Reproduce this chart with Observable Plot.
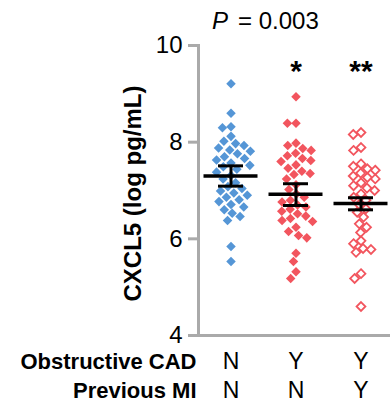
<!DOCTYPE html>
<html><head><meta charset="utf-8">
<script src="https://cdn.jsdelivr.net/npm/d3@7"></script>
<script src="https://cdn.jsdelivr.net/npm/@observablehq/plot@0.6"></script>
<style>
html,body{margin:0;padding:0;background:#fff;overflow:hidden}
</style></head><body><div id="chart"></div>
<script>
// ---- data ----
const groups = ["NN", "YN", "YY"];
const cadLabels = ["N", "Y", "Y"];
const miLabels = ["N", "N", "Y"];
const sigLabels = ["", "*", "**"];
const yTicks = [4, 6, 8, 10];

const valuesNN = [9.21, 8.60, 8.32, 8.30, 8.12, 8.02, 7.97, 7.93, 7.88, 7.84, 7.81, 7.76, 7.70, 7.66, 7.63, 7.57, 7.52, 7.49, 7.44, 7.38, 7.31, 7.24, 7.16, 7.08, 7.04, 6.99, 6.95, 6.90, 6.86, 6.81, 6.77, 6.71, 6.66, 6.60, 6.53, 6.46, 6.38, 5.84, 5.53];
const valuesYN = [8.94, 8.39, 8.39, 7.98, 7.93, 7.87, 7.83, 7.77, 7.72, 7.66, 7.62, 7.60, 7.53, 7.46, 7.40, 7.35, 7.33, 7.24, 7.12, 7.02, 6.93, 6.86, 6.80, 6.76, 6.70, 6.66, 6.61, 6.57, 6.52, 6.47, 6.42, 6.38, 6.36, 6.24, 6.15, 6.07, 6.02, 5.70, 5.53, 5.32, 5.18];
const valuesYY = [8.20, 8.16, 7.89, 7.83, 7.55, 7.50, 7.45, 7.42, 7.36, 7.30, 7.27, 7.24, 7.16, 7.10, 7.05, 7.00, 6.93, 6.86, 6.80, 6.71, 6.62, 6.55, 6.45, 6.31, 6.24, 6.13, 5.96, 5.90, 5.80, 5.78, 5.72, 5.28, 5.18, 4.60];

const means = [7.30, 6.92, 6.73];
const errLow = [7.09, 6.69, 6.60];
const errHigh = [7.51, 7.14, 6.85];

// ---- tables built from the arrays ----
const stats = groups.map((g, i) => ({group: g, mean: means[i], lo: errLow[i], hi: errHigh[i], cad: cadLabels[i], mi: miLabels[i], sig: sigLabels[i]}));
const ptsNN = valuesNN.map(v => ({group: groups[0], value: v}));
const ptsYN = valuesYN.map(v => ({group: groups[1], value: v}));
const ptsYY = valuesYY.map(v => ({group: groups[2], value: v}));

const blue = "#5596d6";
const red = "#f2555e";
const gray = "#aaaaaa";
const font = "Liberation Sans, Arial, Helvetica, sans-serif";
const dodge = {anchor: "middle", padding: 0};

const chart = Plot.plot({
  width: 393,
  height: 405,
  marginLeft: 197,
  marginRight: 0,
  marginTop: 45,
  marginBottom: 70,
  style: {fontFamily: font, color: "black", background: "white", maxWidth: "none", overflow: "visible"},
  fx: {domain: groups, padding: 0, axis: null},
  x: {domain: [-1, 1], axis: null},
  y: {domain: [4, 10]},
  marks: [
    Plot.ruleY([4], {stroke: gray, strokeWidth: 3}),
    Plot.frame({anchor: "left", facetAnchor: "left", stroke: gray, strokeWidth: 3}),
    Plot.axisY({ticks: yTicks, tickFormat: d3.format("d"), tickSize: 10, tickPadding: 6, stroke: gray, strokeWidth: 3, fill: "black", fontSize: 24, label: null}),
    Plot.dot(ptsNN, Plot.dodgeX(dodge, {fx: "group", y: "value", r: 4.3, symbol: "diamond2", fill: blue, stroke: "none"})),
    Plot.dot(ptsYN, Plot.dodgeX(dodge, {fx: "group", y: "value", r: 4.3, symbol: "diamond2", fill: red, stroke: "none"})),
    Plot.dot(ptsYY, Plot.dodgeX(dodge, {fx: "group", y: "value", r: 4.0, symbol: "diamond2", fill: "none", stroke: red, strokeWidth: 1.8})),
    Plot.ruleX(stats, {fx: "group", x: 0, y1: "lo", y2: "hi", stroke: "black", strokeWidth: 3}),
    Plot.tickY(stats, {fx: "group", y: "mean", stroke: "black", strokeWidth: 3.5, insetLeft: 5.5, insetRight: 5.5}),
    Plot.tickY(stats, {fx: "group", y: "lo", stroke: "black", strokeWidth: 3, insetLeft: 20, insetRight: 20}),
    Plot.tickY(stats, {fx: "group", y: "hi", stroke: "black", strokeWidth: 3, insetLeft: 20, insetRight: 20}),
    Plot.text(stats.filter(d => d.sig), {fx: "group", text: "sig", frameAnchor: "top", lineAnchor: "bottom", dy: 35, fontSize: 30, fontWeight: "bold"}),
    Plot.text(stats, {fx: "group", text: "cad", frameAnchor: "bottom", lineAnchor: "bottom", dy: 33, fontSize: 23}),
    Plot.text(stats, {fx: "group", text: "mi", frameAnchor: "bottom", lineAnchor: "bottom", dy: 62, fontSize: 23}),
    Plot.text(["Obstructive CAD"], {fx: [groups[0]], frameAnchor: "bottom-left", textAnchor: "end", lineAnchor: "bottom", dx: -2, dy: 33, fontSize: 22, fontWeight: "bold"}),
    Plot.text(["Previous MI"], {fx: [groups[0]], frameAnchor: "bottom-left", textAnchor: "end", lineAnchor: "bottom", dx: -2, dy: 62, fontSize: 22, fontWeight: "bold"}),
    Plot.text(["CXCL5 (log pg/mL)"], {fx: [groups[0]], frameAnchor: "left", textAnchor: "middle", lineAnchor: "middle", rotate: -90, dx: -65, dy: 3, fontSize: 24, fontWeight: "bold"}),
    Plot.text(["P"], {fx: [groups[1]], frameAnchor: "top", textAnchor: "start", lineAnchor: "bottom", dx: -84, dy: -17, fontSize: 24, fontStyle: "italic"}),
    Plot.text(["= 0.003"], {fx: [groups[1]], frameAnchor: "top", textAnchor: "start", lineAnchor: "bottom", dx: -58, dy: -17, fontSize: 24})
  ]
});
document.getElementById("chart").append(chart);
</script></body></html>
